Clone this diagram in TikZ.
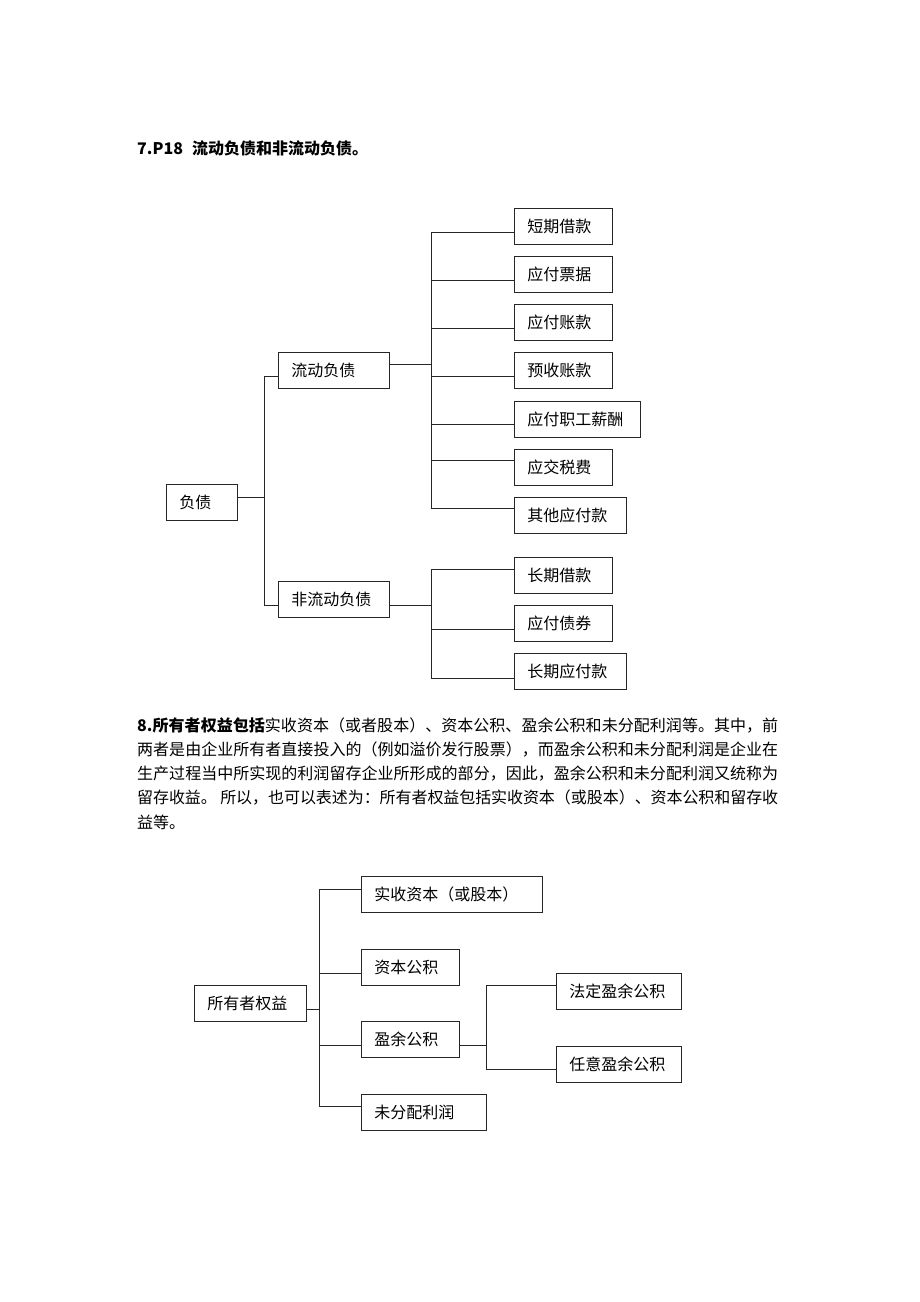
\documentclass[tikz,border=0pt]{standalone}
\usepackage{fontspec}
\setmainfont{Noto Sans CJK SC}
\XeTeXlinebreaklocale "zh"
\XeTeXlinebreakskip=0pt plus 1pt minus 0.3pt
\usetikzlibrary{positioning}
\tikzset{
  box/.style={draw=black!85, line width=0.8pt, anchor=north west, minimum height=36pt,
    inner xsep=13pt, inner ysep=0pt, align=left, font=\fontsize{16}{18}\selectfont},
  link/.style={draw=black!85, line width=0.8pt},
  para/.style={inner sep=0pt, text width=641pt, align=justify, font=\fontsize{16}{24.3}\selectfont},
}
\begin{document}
\begin{tikzpicture}[x=1pt,y=-1pt]
\useasboundingbox (0,0) rectangle (920,1302);
\node[inner sep=0pt, anchor=base west, font=\fontsize{16}{18}\selectfont\bfseries] (h7) at (137,154) {7.P18\hspace{9pt}流动负债和非流动负债。};
% liabilities
\node[box, text width=45pt] (fz) at (166,484) {负债};
\node[box, text width=85pt] (ldfz) at (278,352) {流动负债};
\node[box, text width=85pt] (fldfz) at (278,581) {非流动负债};
\node[box, text width=72pt] (dqjk) at (514,208) {短期借款};
\node[box, text width=72pt] (yfpj) at (514,256) {应付票据};
\node[box, text width=72pt] (yfzk) at (514,304) {应付账款};
\node[box, text width=72pt] (yszk) at (514,352) {预收账款};
\node[box, text width=100pt] (yfzgxc) at (514,401) {应付职工薪酬};
\node[box, text width=72pt] (yjsf) at (514,449) {应交税费};
\node[box, text width=86pt] (qtyfk) at (514,497) {其他应付款};
\node[box, text width=72pt] (cqjk) at (514,557) {长期借款};
\node[box, text width=72pt] (yfzq) at (514,605) {应付债券};
\node[box, text width=86pt] (cqyfk) at (514,653) {长期应付款};
\coordinate (fzT) at (264,376);
\coordinate (fzB) at (264,605);
\draw[link] (fzT) -- (fzB);
\draw[link] ([yshift=5.5pt]fz.east) -- ([yshift=5.5pt]fz.east -| fzT);
\draw[link] (fzT) -- (fzT -| ldfz.west);
\draw[link] (fzB) -- (fzB -| fldfz.west);
\coordinate (ldT) at (431,232);
\coordinate (ldB) at (431,508);
\draw[link] (ldT) -- (ldB);
\draw[link] ([yshift=6pt]ldfz.east) -- ([yshift=6pt]ldfz.east -| ldT);
\foreach \n/\y in {dqjk/232,yfpj/280,yfzk/328,yszk/376,yfzgxc/424,yjsf/460,qtyfk/508}
  \draw[link] (ldT |- 0,\y) -- (\n.west |- 0,\y);
\coordinate (fldT) at (431,569);
\coordinate (fldB) at (431,678);
\draw[link] (fldT) -- (fldB);
\draw[link] (fzB -| fldfz.east) -- (fzB -| fldT);
\foreach \n/\y in {cqjk/569,yfzq/629,cqyfk/678}
  \draw[link] (fldT |- 0,\y) -- (\n.west |- 0,\y);
% owners' equity text
\node[para, anchor=base west] (p8) at (137,731) {\textbf{8.所有者权益包括}实收资本（或者股本）、资本公积、盈余公积和未分配利润等。其中，前\linebreak 两者是由企业所有者直接投入的（例如溢价发行股票），而盈余公积和未分配利润是企业在\linebreak 生产过程当中所实现的利润留存企业所形成的部分，因此，盈余公积和未分配利润又统称为\linebreak 留存收益。 所以，也可以表述为：所有者权益包括实收资本（或股本）、资本公积和留存收\linebreak 益等。};
% owners' equity
\node[box, text width=86pt] (syzqy) at (194,985) {所有者权益};
\node[box, text width=155pt] (ssgb) at (361,876) {实收资本（或股本）};
\node[box, text width=72pt] (zbgj) at (361,949) {资本公积};
\node[box, text width=72pt] (yygj) at (361,1021) {盈余公积};
\node[box, text width=99pt] (wfplr) at (361,1094) {未分配利润};
\node[box, text width=99pt] (fdyy) at (556,973) {法定盈余公积};
\node[box, text width=99pt] (ryyy) at (556,1046) {任意盈余公积};
\coordinate (qyT) at (319,889);
\coordinate (qyB) at (319,1106);
\draw[link] (qyT) -- (qyB);
\draw[link] ([yshift=-6pt]syzqy.east) -- ([yshift=-6pt]syzqy.east -| qyT);
\foreach \n/\y in {ssgb/889,zbgj/973,yygj/1045,wfplr/1106}
  \draw[link] (qyT |- 0,\y) -- (\n.west |- 0,\y);
\coordinate (yyT) at (486,985);
\coordinate (yyB) at (486,1069);
\draw[link] (yyT) -- (yyB);
\draw[link] ([yshift=-6pt]yygj.east) -- ([yshift=-6pt]yygj.east -| yyT);
\foreach \n/\y in {fdyy/985,ryyy/1069}
  \draw[link] (yyT |- 0,\y) -- (\n.west |- 0,\y);
\end{tikzpicture}
\end{document}
